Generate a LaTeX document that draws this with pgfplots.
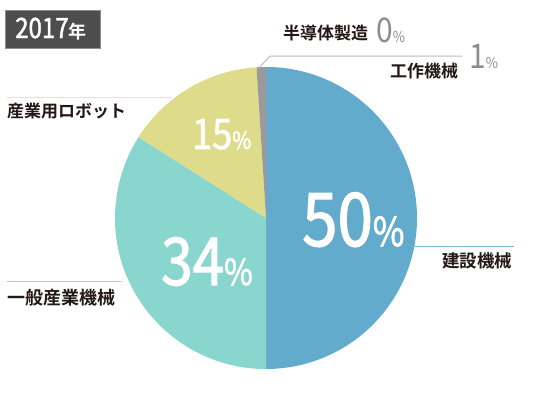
\documentclass[border=0pt]{standalone}
\usepackage{pgfplots}
\usepackage{pgfplotstable}
\pgfplotsset{compat=1.18}
\usepackage{fontspec}
\setmainfont{Noto Sans CJK JP}
\newfontfamily\jpb{Noto Sans CJK JP Bold}
\newfontfamily\numf[FakeStretch=0.86,FakeBold=1.6]{Noto Sans CJK JP}
\newfontfamily\numr[FakeStretch=0.88]{Noto Sans CJK JP}
\definecolor{cblue}{HTML}{63ABCC}
\definecolor{cteal}{HTML}{89D6CF}
\definecolor{cyellow}{HTML}{DEDC8B}
\definecolor{cgrey}{HTML}{9A9A9A}
\definecolor{cbox}{HTML}{4D4D4D}
\definecolor{cnum}{HTML}{8C8C8C}
\definecolor{ctext}{HTML}{231815}
\pgfplotstableread{
value color
50 cblue
34 cteal
15 cyellow
1 cgrey
0 cgrey
}\piedata
\begin{document}
\begin{tikzpicture}
\begin{axis}[x=1bp,y=1bp,xmin=0,xmax=534,ymin=0,ymax=397,y dir=reverse,
  hide axis,clip=false]
\path (axis cs:0,0) rectangle (axis cs:534,397);
\pgfplotstablegetrowsof{\piedata}
\pgfmathtruncatemacro\nrows{\pgfplotsretval-1}
\gdef\cumangle{90}
\pgfplotsforeachungrouped \i in {0,...,\nrows}{%
  \pgfplotstablegetelem{\i}{value}\of\piedata \let\val\pgfplotsretval
  \pgfplotstablegetelem{\i}{color}\of\piedata \let\col\pgfplotsretval
  \pgfmathsetmacro\endangle{\cumangle-3.6*\val}%
  \edef\temp{\noexpand\fill[\col] (axis cs:266,218) -- ++(\cumangle:151bp) arc[start angle=\cumangle, end angle=\endangle, radius=151bp] -- cycle;}%
  \temp
  \global\let\cumangle\endangle
}
% leader lines
\draw[line width=1bp,color=black!25] (axis cs:259,68) -- (axis cs:270,56) -- (axis cs:462,56);
\draw[line width=1bp,color=cyellow!70] (axis cs:7,97) -- (axis cs:172,97);
\draw[line width=1bp,color=cblue!85] (axis cs:412,246) -- (axis cs:514,246);
\draw[line width=1bp,color=cteal!90] (axis cs:7,281) -- (axis cs:122,281);
% title box
\fill[cbox,draw=black!45,line width=0.5bp] (axis cs:5,10) rectangle (axis cs:100,48);
\node[anchor=base west,inner sep=0,text=white] at (axis cs:15,38)
  {\numf\fontsize{28bp}{28bp}\selectfont 2017\fontsize{18bp}{18bp}\selectfont\jpb 年};
% labels
\node[anchor=base west,inner sep=0,text=ctext] at (axis cs:283,39) {\jpb\fontsize{17bp}{17bp}\selectfont 半導体製造};
\node[anchor=base west,inner sep=0,text=cnum] at (axis cs:376,42) {\numr\fontsize{34bp}{34bp}\selectfont 0\fontsize{15bp}{15bp}\selectfont\%};
\node[anchor=base west,inner sep=0,text=cnum] at (axis cs:469,68) {\numr\fontsize{34bp}{34bp}\selectfont 1\fontsize{15bp}{15bp}\selectfont\%};
\node[anchor=base west,inner sep=0,text=ctext] at (axis cs:390,77) {\jpb\fontsize{17bp}{17bp}\selectfont 工作機械};
\node[anchor=base west,inner sep=0,text=ctext] at (axis cs:7,117) {\jpb\fontsize{17bp}{17bp}\selectfont 産業用ロボット};
\node[anchor=base west,inner sep=0,text=ctext] at (axis cs:442,267) {\jpb\fontsize{17.5bp}{17.5bp}\selectfont 建設機械};
\node[anchor=base west,inner sep=0,text=ctext] at (axis cs:7,304) {\jpb\fontsize{18bp}{18bp}\selectfont 一般産業機械};
% percentages
\node[anchor=base west,inner sep=0,text=white] at (axis cs:302,246) {\numf\fontsize{74bp}{74bp}\selectfont 50\fontsize{40bp}{40bp}\selectfont\%};
\node[anchor=base west,inner sep=0,text=white] at (axis cs:161,285) {\numf\fontsize{66bp}{66bp}\selectfont 34\fontsize{36bp}{36bp}\selectfont\%};
\node[anchor=base west,inner sep=0,text=white] at (axis cs:192,149) {\numf\fontsize{42bp}{42bp}\selectfont 15\fontsize{24bp}{24bp}\selectfont\%};
\end{axis}
\end{tikzpicture}
\end{document}
